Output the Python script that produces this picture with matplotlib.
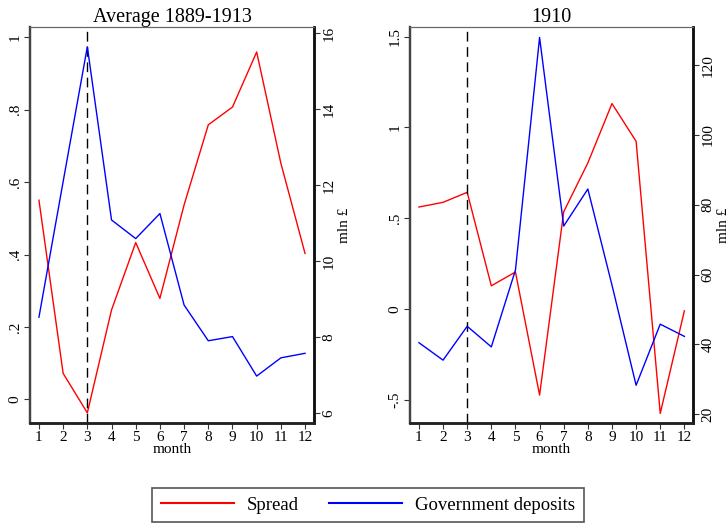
import numpy as np
import matplotlib.pyplot as plt
from matplotlib.lines import Line2D

plt.rcParams['font.family'] = ['Liberation Serif', 'DejaVu Serif']

months = np.arange(1, 13)

# Average 1889-1913
spread_avg = [0.55, 0.072, -0.037, 0.247, 0.433, 0.279, 0.537, 0.758, 0.807, 0.959, 0.652, 0.403]
gov_avg = [8.53, 12.1, 15.65, 11.09, 10.6, 11.26, 8.85, 7.91, 8.02, 6.98, 7.46, 7.58]

# 1910
spread_1910 = [0.561, 0.587, 0.642, 0.127, 0.203, -0.475, 0.535, 0.804, 1.131, 0.923, -0.576, -0.011]
gov_1910 = [40.5, 35.5, 45.2, 39.3, 61.3, 127.9, 73.9, 84.5, 57.0, 28.3, 45.8, 42.3]

panels = [
    dict(title='Average 1889-1913', spread=spread_avg, gov=gov_avg,
         lticks=[0, 0.2, 0.4, 0.6, 0.8, 1.0], llabels=['0', '.2', '.4', '.6', '.8', '1'],
         lylim=(-0.065, 1.028),
         rticks=[6, 8, 10, 12, 14, 16], rylim=(5.745, 16.17),
         pos=[30/728, 1-423/525, 284/728, 396/525]),
    dict(title='1910', spread=spread_1910, gov=gov_1910,
         lticks=[-0.5, 0, 0.5, 1.0, 1.5], llabels=['-.5', '0', '.5', '1', '1.5'],
         lylim=(-0.629, 1.553),
         rticks=[20, 40, 60, 80, 100, 120], rylim=(17.5, 130.9),
         pos=[410/728, 1-423/525, 283.3/728, 396/525]),
]

fig = plt.figure(figsize=(7.28, 5.25), dpi=100)

for p in panels:
    ax = fig.add_axes(p['pos'])
    ax.plot(months, p['spread'], color='#ff0000', lw=1.0)
    ax.axvline(3, color='black', lw=1.0, linestyle=(0, (7, 4)))
    ax.set_xlim(0.63, 12.37)
    ax.set_ylim(*p['lylim'])
    ax.set_xticks(months)
    ax.set_yticks(p['lticks'])
    ax.set_yticklabels(p['llabels'], rotation=90, va='center')
    ax.set_title(p['title'], fontsize=14.5, pad=3)
    ax.set_xlabel('month', fontsize=11, labelpad=-1)
    ax.tick_params(labelsize=11, length=4, color='#333333', pad=2)

    ax2 = ax.twinx()
    ax2.plot(months, p['gov'], color='#0000ff', lw=1.0)
    ax2.set_ylim(*p['rylim'])
    ax2.set_yticks(p['rticks'])
    ax2.set_yticklabels([str(t) for t in p['rticks']], rotation=90, va='center')
    ax2.set_ylabel('mln £', fontsize=11, rotation=90, labelpad=2)
    ax2.tick_params(labelsize=11, length=4, color='#333333', pad=2)

    for a in (ax, ax2):
        a.spines['top'].set_linewidth(0.8)
        a.spines['top'].set_color('#666666')
        a.spines['left'].set_linewidth(1.6)
        a.spines['left'].set_color('#444444')
        a.spines['bottom'].set_linewidth(1.8)
        a.spines['bottom'].set_color('#222222')
        a.spines['right'].set_linewidth(1.8)
        a.spines['right'].set_color('#111111')

handles = [Line2D([], [], color='#ff0000', lw=1.5),
           Line2D([], [], color='#0000ff', lw=1.5)]
leg = fig.legend(handles, ['Spread', 'Government deposits'], loc='center',
                 bbox_to_anchor=(368/728, 1-505/525), ncol=2, fontsize=13.5,
                 handlelength=3.9, handletextpad=0.7, columnspacing=1.6,
                 fancybox=False, edgecolor='#555555', framealpha=1,
                 borderpad=0.45, borderaxespad=0)
leg.get_frame().set_linewidth(1.2)

fig.savefig('out.png', dpi=100)
